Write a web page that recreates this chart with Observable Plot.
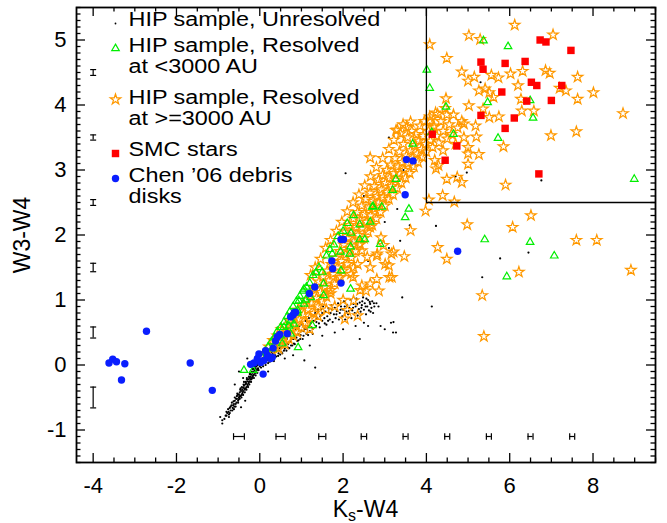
<!DOCTYPE html>
<html><head><meta charset="utf-8">
<script src="https://cdn.jsdelivr.net/npm/d3@7"></script>
<script src="https://cdn.jsdelivr.net/npm/@observablehq/plot@0.6"></script>
<style>body{margin:0;background:#fff}svg{display:block}</style>
</head><body><div id="chart"></div>
<script>
// ---- data (Ks-W4, W3-W4) ----
const unresolved = [[-0.85,-0.83],[-0.8,-0.78],[-0.75,-0.72],[-0.72,-0.66],[-0.7,-0.7],[-0.68,-0.62],[-0.65,-0.66],[-0.62,-0.6],[-0.6,-0.55],[-0.58,-0.6],[-0.55,-0.52],[-0.55,-0.48],[-0.52,-0.55],[-0.5,-0.45],[-0.5,-0.5],[-0.48,-0.42],[-0.46,-0.48],[-0.45,-0.4],[-0.42,-0.38],[-0.42,-0.44],[-0.4,-0.35],[-0.4,-0.4],[-0.38,-0.32],[-0.36,-0.38],[-0.35,-0.3],[-0.33,-0.28],[-0.32,-0.34],[-0.3,-0.25],[-0.3,-0.3],[-0.28,-0.22],[-0.27,-0.28],[-0.25,-0.2],[-0.24,-0.25],[-0.22,-0.18],[-0.2,-0.15],[-0.2,-0.22],[-0.18,-0.12],[-0.17,-0.18],[-0.15,-0.1],[-0.14,-0.15],[-0.12,-0.08],[-0.1,-0.05],[-0.1,-0.12],[-0.08,-0.02],[-0.07,-0.08],[-0.05,0],[-0.04,-0.05],[-0.02,0.02],[0,-0.02],[0,0.03],[0.02,0.05],[0.04,0],[0.05,0.07],[0.07,0.03],[0.08,0.1],[0.1,0.05],[0.12,0.12],[0.13,0.06],[0.15,0.1],[0.17,0.15],[0.18,0.08],[0.2,0.13],[0.22,0.18],[0.24,0.1],[0.25,0.16],[0.28,0.2],[0.3,0.12],[0.3,0.24],[0.33,0.18],[0.35,0.27],[0.37,0.15],[0.4,0.22],[0.42,0.3],[0.45,0.18],[0.47,0.26],[0.5,0.33],[0.52,0.2],[0.55,0.28],[0.57,0.36],[0.6,0.25],[0.62,0.32],[0.65,0.4],[0.67,0.27],[0.7,0.35],[0.72,0.45],[0.75,0.3],[0.77,0.4],[0.8,0.5],[0.82,0.33],[0.85,0.43],[0.87,0.55],[0.9,0.37],[0.92,0.47],[0.95,0.6],[0.97,0.4],[1.0,0.52],[1.02,0.62],[1.05,0.45],[1.08,0.55],[1.1,0.68],[1.12,0.48],[1.15,0.6],[1.18,0.72],[1.2,0.52],[1.22,0.64],[1.25,0.75],[1.28,0.56],[1.3,0.68],[1.33,0.8],[1.35,0.6],[1.38,0.72],[1.4,0.85],[1.42,0.64],[1.45,0.75],[1.5,0.68],[1.5,0.8],[1.52,0.9],[1.55,0.72],[1.58,0.82],[1.6,0.62],[1.62,0.75],[1.65,0.87],[1.68,0.7],[1.7,0.8],[1.72,0.92],[1.75,0.66],[1.78,0.78],[1.8,0.88],[1.82,0.72],[1.85,0.83],[1.88,0.95],[1.9,0.7],[1.92,0.8],[1.95,0.9],[1.98,0.75],[2.0,0.85],[2.02,0.98],[2.05,0.7],[2.08,0.82],[2.1,0.92],[2.12,0.78],[2.15,0.88],[2.18,1.0],[2.2,0.72],[2.22,0.84],[2.25,0.94],[2.28,0.8],[2.3,0.9],[2.32,1.02],[2.35,0.76],[2.38,0.86],[2.4,0.96],[2.42,0.82],[2.45,0.92],[2.48,1.04],[2.5,0.85],[2.52,0.95],[2.55,0.78],[2.58,0.9],[2.6,1.0],[2.62,0.84],[2.65,0.94],[2.68,0.88],[2.7,0.98],[2.72,0.8],[2.75,0.9],[2.8,0.95],[2.5,0.65],[2.6,0.6],[2.3,0.6],[2.0,0.55],[1.8,0.5],[2.85,0.9],[2.9,0.6],[3.15,0.65],[3.2,0.5],[3.0,0.55],[2.4,0.4],[1.5,0.45],[-0.4,-0.2],[-0.5,-0.1],[-0.6,-0.3],[-0.3,0.1],[-0.45,-0.65],[-0.9,-0.85],[-0.95,-0.8],[-0.35,-0.55],[0.2,-0.1],[0.3,0.4],[0.1,0.25],[0.6,0.1],[1.07,0.07],[1.33,-0.04],[0.8,0.15],[1.2,0.3],[2.06,2.95],[4.13,0.9],[4.23,2.14],[3.37,1.91],[5.77,1.64],[6.45,1.73],[5.34,1.35],[3.42,1.04],[3.27,0.5],[3.21,0.66],[6.76,2.84],[4.97,2.96],[5.3,4.35],[4.7,2.9],[3.1,3.5],[2.5,2.6],[2.2,1.9],[1.9,1.3],[2.6,1.6],[3.0,2.2],[2.8,2.7],[3.3,2.4],[1.6,1.1],[1.2,1.0],[1.0,0.9],[0.7,0.75],[3.6,2.15],[3.1,1.8],[2.4,2.3],[3.45,3.0],[2.3,1.5],
[-0.78,-0.74],[-0.74,-0.76],[-0.7,-0.64],[-0.66,-0.7],[-0.63,-0.56],[-0.61,-0.64],[-0.57,-0.52],[-0.56,-0.58],[-0.53,-0.46],[-0.51,-0.53],[-0.49,-0.48],[-0.47,-0.38],[-0.44,-0.46],[-0.43,-0.34],[-0.41,-0.42],[-0.39,-0.3],[-0.37,-0.36],[-0.34,-0.26],[-0.34,-0.36],[-0.31,-0.22],[-0.29,-0.32],[-0.26,-0.18],[-0.26,-0.26],[-0.23,-0.14],[-0.23,-0.22],[-0.21,-0.2],[-0.19,-0.1],[-0.16,-0.16],[-0.16,-0.06],[-0.13,-0.12],[-0.11,-0.02],[-0.09,-0.09],[-0.06,0.02],[-0.05,-0.06],[-0.03,0.05],[0.01,0.0],[0.03,0.08],[0.06,0.02],[0.09,0.06],[0.11,0.14],[0.14,0.04],[0.16,0.12],[0.19,0.18],[0.21,0.07],[0.23,0.14],[0.26,0.22],[0.27,0.1],[0.31,0.17],[0.34,0.1],[0.36,0.2],[0.39,0.13],[0.41,0.26],[0.44,0.14],[0.46,0.22],[0.49,0.16],[0.51,0.27],[0.54,0.18],[0.58,0.22],[0.61,0.3],[0.64,0.22],[0.68,0.32],[0.71,0.26],[0.74,0.36],[0.78,0.3],[0.81,0.4],[0.84,0.32],[0.88,0.42],[0.93,0.38],[0.98,0.46],[1.03,0.4],[1.06,0.52],[1.13,0.55],[1.16,0.46],[1.24,0.58],[1.27,0.48],[1.36,0.66],[1.44,0.58],[1.47,0.86],[1.56,0.64],[1.64,0.68],[1.66,0.8],[1.74,0.85],[1.84,0.78],[1.94,0.85],[2.04,0.9],[2.14,0.83],[2.24,0.88],[2.34,0.94],[2.44,0.88],[2.54,0.9],[2.64,0.97],[2.74,0.95],[2.46,0.98],[2.56,1.02],[2.66,0.82],[-0.62,-0.68],[-0.74,-0.8],[-0.82,-0.78],[-0.9,-0.9],
[-0.8,-0.72],[-0.76,-0.68],[-0.72,-0.74],[-0.67,-0.58],[-0.64,-0.62],[-0.6,-0.5],[-0.58,-0.64],[-0.54,-0.44],[-0.52,-0.58],[-0.48,-0.52],[-0.46,-0.36],[-0.44,-0.5],[-0.4,-0.46],[-0.38,-0.26],[-0.36,-0.42],[-0.32,-0.38],[-0.31,-0.2],[-0.28,-0.34],[-0.25,-0.3],[-0.24,-0.14],[-0.21,-0.26],[-0.18,-0.2],[-0.18,-0.06],[-0.14,-0.2],[-0.12,-0.02],[-0.1,-0.16],[-0.07,0.04],[-0.06,-0.12],[-0.03,-0.08],[-0.01,0.07],[0.03,-0.04],[0.05,0.1],[0.08,-0.02],[0.1,0.15],[0.14,0.0],[0.16,0.18],[0.2,0.03],[0.24,0.05],[0.28,0.26],[0.34,0.06],[0.38,0.2]];

const resolvedNear = [[5.37,4.99],[5.96,4.9],[4.01,4.54],[4.08,4.26],[5.47,4.04],[6.49,4.07],[4.47,3.97],[6.56,3.8],[4.65,3.55],[5.72,3.49],[4.13,3.58],[8.99,2.86],[5.4,1.93],[6.49,1.89],[7.07,1.68],[5.93,1.36],[3.67,3.4],[3.27,2.86],[3.19,2.69],[2.72,2.44],[2.93,2.43],[3.58,2.4],[3.49,2.27],[2.7,2.43],[2.65,2.2],[2.4,2.16],[2.19,2.03],[2.4,1.93],[2.52,1.93],[2.89,1.86],[2.18,1.82],[1.94,1.74],[2.16,1.71],[1.74,1.71],[1.95,1.45],[1.5,1.43],[1.28,1.38],[1.53,1.25],[2.18,1.17],[1.06,1.17],[0.94,0.99],[1.53,1.07],[1.26,0.61],[0.58,0.58],[0.74,0.68],[-0.38,-0.08],[-0.16,-0.08],[0.54,0.33],[0.74,0.48],[0.82,0.63],[0.91,0.84],[1.06,0.94],[1.22,1.04],[0.05,0.12],[0.12,0.2],[0.2,0.28],[0.28,0.36],[0.35,0.42],[0.42,0.52],[0.5,0.58],[0.58,0.66],[0.66,0.75],[0.72,0.82],[0.8,0.9],[0.88,0.98],[0.96,1.06],[1.04,1.14],[1.12,1.2],[1.2,1.26],[1.35,1.42],[1.42,1.5],[1.6,1.68],[1.68,1.78],[1.78,1.85],[1.88,1.98],[2.0,2.06],[2.1,2.18],[2.25,2.3],[0.3,0.25],[0.5,0.45],[0.7,0.6],[0.9,0.8],[1.1,1.0],[0.92,0.27]];

const resolvedWide = [[6.12,5.23],[5.02,5.07],[5.29,5.01],[7.04,5.08],[4.08,4.93],[4.49,4.72],[4.85,4.51],[5.0,4.37],[5.15,4.43],[5.26,4.22],[5.41,4.25],[5.51,4.19],[5.61,4.12],[5.56,4.46],[5.73,4.42],[6.02,4.48],[6.31,4.52],[6.2,4.3],[6.86,4.53],[6.96,4.49],[7.63,4.43],[7.2,4.26],[7.35,4.22],[8.01,4.19],[7.63,4.09],[6.27,4.09],[5.02,3.99],[4.47,4.1],[4.49,3.85],[4.27,3.86],[4.08,3.76],[4.18,3.66],[4.9,3.71],[5.18,3.68],[5.51,3.81],[5.74,3.82],[6.29,3.91],[6.58,3.91],[5.36,3.94],[8.72,3.87],[7.6,3.59],[6.99,3.53],[5.85,3.36],[5.2,3.51],[5.0,3.35],[5.26,3.24],[5.0,3.09],[4.74,2.89],[4.49,2.86],[4.85,2.81],[5.9,2.77],[4.39,2.61],[4.67,2.51],[4.06,2.54],[4.29,3.07],[4.23,3.02],[3.98,2.37],[3.62,2.07],[4.98,2.16],[6.07,2.12],[6.51,2.3],[4.27,1.81],[4.49,1.63],[7.6,1.92],[8.09,1.92],[8.91,1.46],[6.22,1.43],[5.34,1.07],[5.38,0.44],[2.65,3.19],[3.27,3.61],[3.47,1.67],[3.16,1.71],[3.01,1.55],[3.11,1.35],[2.81,1.32],[2.86,1.14],[2.55,1.14],[2.45,1.22],[2.65,1.5],[2.35,1.55],[2.19,1.4],[2.24,1.35],[2.91,1.96],[2.81,1.68],[2.45,1.76],[2.65,2.12],[2.04,0.71],[2.35,0.76],[2.82,1.71],[3.1,1.53],[3.17,1.35],[2.65,1.25],[2.41,1.15],[2.25,0.99],[2.1,0.84],[2.58,1.66],[2.97,1.84],[3.21,1.74],[2.25,1.5],[1.94,1.35],[1.7,1.1],[2.41,1.86],[1.4,0.75],[1.6,0.85],[1.8,0.9],[2.0,1.0],[1.2,0.55],
[0.15,0.18],[0.22,0.28],[0.28,0.2],[0.32,0.38],[0.38,0.3],[0.42,0.45],[0.45,0.25],[0.5,0.38],[0.52,0.55],[0.56,0.45],[0.6,0.32],[0.62,0.6],[0.66,0.5],[0.7,0.4],[0.72,0.68],[0.76,0.55],[0.8,0.45],[0.82,0.75],[0.86,0.62],[0.9,0.5],[0.92,0.85],[0.95,0.7],[1.0,0.58],[1.02,0.92],[1.05,0.78],[1.1,0.65],[1.12,1.0],[1.15,0.85],[1.2,0.72],[1.22,1.1],[1.25,0.95],[1.3,0.8],[1.32,1.18],[1.36,1.03],[1.4,0.9],[1.42,1.28],[1.46,1.12],[1.5,0.98],[1.52,1.36],[1.56,1.2],[1.6,1.05],[1.62,1.45],[1.66,1.3],[1.7,1.15],[1.72,1.55],[1.76,1.4],[1.8,1.25],[1.82,1.65],[1.86,1.5],[1.9,1.35],[1.92,1.75],[1.96,1.6],[2.0,1.45],[2.02,1.85],[2.05,2.05],[2.06,1.7],[2.1,1.55],[2.12,1.95],[2.15,2.15],[2.16,1.8],[2.2,1.65],[2.22,2.05],[2.25,2.25],[2.26,1.9],[2.3,1.75],[2.32,2.12],[2.35,2.35],[2.36,2.0],[2.4,1.85],[2.42,2.22],[2.45,2.45],[2.46,2.1],[2.5,1.95],[2.52,2.32],[2.55,2.55],[2.56,2.2],[2.6,2.05],[2.62,2.42],[2.65,2.65],[2.66,2.3],[2.7,2.15],[2.72,2.52],[2.75,2.75],[2.76,2.4],[2.8,2.25],[2.82,2.6],[2.85,2.85],[2.86,2.5],[2.9,2.35],[2.92,2.7],[2.95,2.92],[2.96,2.58],[3.0,2.45],[3.02,2.8],[3.05,3.0],[3.06,2.66],[3.1,2.55],[3.12,2.88],[3.15,3.08],[3.16,2.75],[3.2,2.62],[3.22,2.95],[3.25,3.18],[3.26,2.85],[3.3,2.72],[3.32,3.05],[3.35,3.28],[3.36,2.95],[3.4,2.8],[3.42,3.12],[3.45,3.4],[3.46,3.0],[3.5,2.88],[3.52,3.22],[3.55,3.5],[3.56,3.1],[3.6,2.95],[3.62,3.3],[3.65,3.6],[3.66,3.18],[3.7,3.05],[3.72,3.38],[3.75,3.55],[3.78,3.25],[3.8,3.12],[3.82,3.45],[3.85,3.68],[3.88,3.32],[3.9,3.2],[3.92,3.52],[3.95,3.75],[3.98,3.4],[4.0,3.28],[4.05,3.6],[4.08,3.82],[4.1,3.45],[4.15,3.35],[4.18,3.68],[4.22,3.88],[4.25,3.52],[4.3,3.42],[4.35,3.75],[4.4,3.6],[4.45,3.95],[4.5,3.48],[4.55,3.7],[4.6,3.55],[4.65,3.85],[4.7,3.4],[4.75,3.65],[4.85,3.75],[4.9,3.5],[5.0,3.25],[4.4,3.3],[4.2,3.15],
[1.22,1.38],[1.33,1.5],[1.46,1.63],[1.58,1.8],[1.7,1.92],[1.84,2.06],[1.97,2.2],[2.1,2.36],[2.24,2.5],[2.38,2.62],[2.52,2.76],[2.66,2.9],[2.8,3.04],[2.95,3.18],[3.1,3.32],[3.22,3.46],[3.38,3.56],[3.52,3.66],[3.3,3.62],[3.62,3.74],[3.44,3.7]];

const smc = [[6.73,5.0],[6.87,4.97],[7.47,4.84],[5.31,4.66],[5.36,4.55],[5.89,4.64],[6.37,4.67],[6.52,4.35],[6.65,4.3],[7.25,4.3],[5.81,4.2],[6.41,4.06],[7.0,4.07],[5.31,3.84],[6.11,3.8],[5.89,3.64],[4.14,3.55],[4.73,3.37],[4.45,3.15],[6.7,2.94]];

const chen = [[-3.62,0.03],[-3.53,0.09],[-3.44,0.05],[-3.24,0.02],[-3.32,-0.23],[-2.72,0.52],[-1.67,0.03],[-1.14,-0.39],[0.08,-0.14],[3.52,3.16],[3.68,3.14],[3.49,2.62],[4.75,1.75],[1.95,1.93],[2.01,1.93],[1.73,1.6],[1.75,1.48],[1.95,1.26],[1.32,1.2],[1.19,1.1],[0.86,0.81],[0.8,0.77],[0.74,0.74],[0.83,0.81],[0.66,0.48],[0.48,0.47],[0.38,0.37],[0.32,0.26],[0.26,0.1],[0.1,0.07],[-0.02,0.17],[0.02,0.04],[-0.14,0.03],[-0.22,0.01],[0.18,0.15],[0.14,0.22],[0.3,0.12],[-0.06,0.1],[0.42,0.43]];

// selection box (lower-left corner)
const boxX = [4], boxY = [2.5];

// representative error bars
const errYAtX = -4;
const errYCenters = [4.5, 3.5, 2.5, 1.5, 0.5, -0.5];
const errYHalf = [0.045, 0.04, 0.045, 0.065, 0.085, 0.16];
const errXAtY = -1.1;
const errXCenters = [-0.5, 0.5, 1.5, 2.5, 3.5, 4.5, 5.5, 6.5, 7.5];
const errXHalf = [0.13, 0.11, 0.085, 0.065, 0.06, 0.06, 0.06, 0.06, 0.06];

const xMajor = [-4, -2, 0, 2, 4, 6, 8];
const yMajor = [-1, 0, 1, 2, 3, 4, 5];
const xDomain = [-4.4, 9.5], yDomain = [-1.5, 5.5];

const legendLabels = ["HIP sample, Unresolved", "HIP sample, Resolved", "at <3000 AU", "HIP sample, Resolved", "at >=3000 AU", "SMC stars", "Chen \u201906 debris", "disks"];

// ---- layout ----
const W = 667, H = 523, mL = 76, mR = 12, mT = 7, mB = 61;
const pw = W - mL - mR, ph = H - mT - mB;
const xMinor = d3.range(-4, 9.5001, 0.5).filter(v => !xMajor.includes(v));
const yMinor = d3.range(-15, 56).map(v => v / 10).filter(v => !yMajor.includes(v));
const MJ = 9, MN = 4.5;

const hline = {draw(ctx, size) { const w = Math.sqrt(size / Math.PI); ctx.moveTo(-w, 0); ctx.lineTo(w, 0); }};
const vline = {draw(ctx, size) { const w = Math.sqrt(size / Math.PI); ctx.moveTo(0, -w); ctx.lineTo(0, w); }};

const errYRows = errYCenters.map((c, i) => ({c, lo: c - errYHalf[i], hi: c + errYHalf[i]}));
const errXRows = errXCenters.map((c, i) => ({c, lo: c - errXHalf[i], hi: c + errXHalf[i]}));

const orange = "#ff9900", green = "#00ee00", blue = "#0a1eff", red = "#ff0000";

const lg = {frameAnchor: "top-left", textAnchor: "start", lineAnchor: "middle", fontSize: 20, fill: "black"};
const legendDy = [12, 38, 59, 90, 111, 142, 168, 189];
const symDx = 39;

const chart = Plot.plot({
  width: W, height: H, marginLeft: mL, marginRight: mR, marginTop: mT, marginBottom: mB,
  style: {fontFamily: "'Liberation Sans', Arial, Helvetica, sans-serif", background: "white", color: "black"},
  x: {domain: xDomain},
  y: {domain: yDomain},
  marks: [
    // data
    Plot.dot(unresolved, {x: d => d[0], y: d => d[1], r: 1.1, fill: "black", stroke: "none"}),
    Plot.dot(resolvedWide, {x: d => d[0], y: d => d[1], symbol: "star", r: 3.3, fill: "none", stroke: orange, strokeWidth: 1.2}),
    Plot.dot(resolvedNear, {x: d => d[0], y: d => d[1], symbol: "triangle", r: 2.8, fill: "none", stroke: green, strokeWidth: 1.2}),
    Plot.dot(chen, {x: d => d[0], y: d => d[1], r: 3.7, fill: blue, stroke: "none"}),
    Plot.dot(smc, {x: d => d[0], y: d => d[1], symbol: "square", r: 4.2, fill: red, stroke: "none"}),
    // box
    Plot.ruleX(boxX, {x: d => d, y1: boxY[0], y2: yDomain[1], stroke: "black", strokeWidth: 1.3}),
    Plot.ruleY(boxY, {y: d => d, x1: boxX[0], x2: xDomain[1], stroke: "black", strokeWidth: 1.3}),
    // error bars (left column)
    Plot.ruleX(errYRows, {x: errYAtX, y1: "lo", y2: "hi", stroke: "black", strokeWidth: 1.2}),
    Plot.dot(errYRows, {x: errYAtX, y: "lo", symbol: hline, r: 3, stroke: "black", strokeWidth: 1.2}),
    Plot.dot(errYRows, {x: errYAtX, y: "hi", symbol: hline, r: 3, stroke: "black", strokeWidth: 1.2}),
    // error bars (bottom row)
    Plot.ruleY(errXRows, {y: errXAtY, x1: "lo", x2: "hi", stroke: "black", strokeWidth: 1.2}),
    Plot.dot(errXRows, {y: errXAtY, x: "lo", symbol: vline, r: 3.3, stroke: "black", strokeWidth: 1.2}),
    Plot.dot(errXRows, {y: errXAtY, x: "hi", symbol: vline, r: 3.3, stroke: "black", strokeWidth: 1.2}),
    // inside ticks (IDL style)
    Plot.tickX(xMajor, {x: d => d, insetTop: ph - MJ, stroke: "black", strokeWidth: 1.3}),
    Plot.tickX(xMajor, {x: d => d, insetBottom: ph - MJ, stroke: "black", strokeWidth: 1.3}),
    Plot.tickX(xMinor, {x: d => d, insetTop: ph - MN, stroke: "black", strokeWidth: 1.3}),
    Plot.tickX(xMinor, {x: d => d, insetBottom: ph - MN, stroke: "black", strokeWidth: 1.3}),
    Plot.tickY(yMajor, {y: d => d, insetRight: pw - MJ, stroke: "black", strokeWidth: 1.3}),
    Plot.tickY(yMajor, {y: d => d, insetLeft: pw - MJ, stroke: "black", strokeWidth: 1.3}),
    Plot.tickY(yMinor, {y: d => d, insetRight: pw - MN, stroke: "black", strokeWidth: 1.3}),
    Plot.tickY(yMinor, {y: d => d, insetLeft: pw - MN, stroke: "black", strokeWidth: 1.3}),
    Plot.frame({stroke: "black", strokeWidth: 1.8}),
    // tick labels
    Plot.axisX(xMajor, {anchor: "bottom", tickSize: 0, tickPadding: 15, fontSize: 22, label: null, tickFormat: d => String(d)}),
    Plot.axisY(yMajor, {anchor: "left", tickSize: 0, tickPadding: 10, fontSize: 22, label: null, tickFormat: d => String(d)}),
    // y label
    Plot.text(["W3-W4"], {frameAnchor: "left", dx: -53.5, rotate: -90, textAnchor: "middle", lineAnchor: "middle", fontSize: 23, fill: "black"}),
    // legend
    ...legendLabels.map((t, i) => Plot.text([t], {...lg, dx: 52, dy: legendDy[i]})),
    Plot.dot([0], {frameAnchor: "top-left", dx: symDx, dy: 16, r: 0.9, fill: "black"}),
    Plot.dot([0], {frameAnchor: "top-left", dx: symDx, dy: 41, symbol: "triangle", r: 2.8, fill: "none", stroke: green, strokeWidth: 1.2}),
    Plot.dot([0], {frameAnchor: "top-left", dx: symDx, dy: 92, symbol: "star", r: 3.3, fill: "none", stroke: orange, strokeWidth: 1.2}),
    Plot.dot([0], {frameAnchor: "top-left", dx: symDx, dy: 146, symbol: "square", r: 4.2, fill: red}),
    Plot.dot([0], {frameAnchor: "top-left", dx: symDx, dy: 171, r: 3.7, fill: blue})
  ]
});

// x label with subscript
const svg = d3.select(chart);
const xl = svg.append("text")
  .attr("x", mL + pw / 2).attr("y", 517)
  .attr("text-anchor", "middle")
  .attr("font-size", 23).attr("fill", "black");
xl.append("tspan").text("K");
xl.append("tspan").attr("font-size", 16).attr("dy", 4).text("s");
xl.append("tspan").attr("dy", -4).text("-W4");

document.getElementById("chart").appendChild(chart);

// legend glyphs in the reference are drawn wider than Helvetica proportions
svg.selectAll("text").filter(function () { return legendLabels.includes(this.textContent); }).each(function () {
  const len = this.getComputedTextLength();
  this.setAttribute("textLength", (len * 1.17).toFixed(1));
  this.setAttribute("lengthAdjust", "spacingAndGlyphs");
});
</script>
</body></html>
